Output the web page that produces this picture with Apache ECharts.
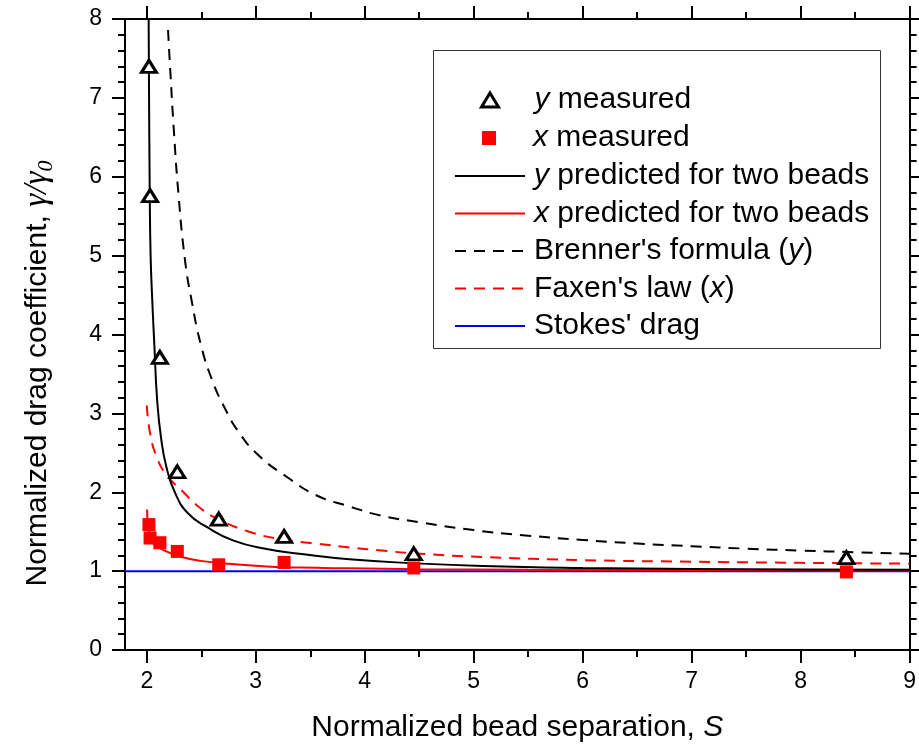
<!DOCTYPE html>
<html><head><meta charset="utf-8">
<script src="https://cdn.jsdelivr.net/npm/echarts@6/dist/echarts.min.js"></script>
<style>html,body{margin:0;padding:0;background:#fff}#c{width:919px;height:749px}</style>
</head><body><div id="c"></div>
<script>
// ---- data ----
const X_TICKS = [2, 3, 4, 5, 6, 7, 8, 9];
const X_MINOR_TICKS = [2.5, 3.5, 4.5, 5.5, 6.5, 7.5, 8.5];

const S_MEAS = [2.02, 2.03, 2.12, 2.28, 2.66, 3.26, 4.45, 8.42];
const Y_MEAS = [7.40, 5.76, 3.71, 2.26, 1.66, 1.44, 1.22, 1.17];
const X_MEAS = [1.59, 1.42, 1.36, 1.25, 1.08, 1.11, 1.04, 0.99];

const Y_PRED_S = [2.017, 2.02, 2.027, 2.035, 2.05, 2.07, 2.095, 2.13, 2.18, 2.26, 2.38, 2.55, 2.79, 3.10, 3.40, 3.86, 4.45, 5.08, 6.0, 7.0, 8.0, 9.0];
const Y_PRED   = [8.0, 7.2, 5.8, 5.0, 4.44, 3.85, 3.17, 2.70, 2.32, 1.99, 1.73, 1.56, 1.39, 1.28, 1.22, 1.15, 1.10, 1.065, 1.04, 1.028, 1.02, 1.016];

const X_PRED_S = [2.003, 2.01, 2.03, 2.06, 2.12, 2.18, 2.33, 2.49, 2.79, 3.10, 3.40, 3.86, 4.5, 5.5, 7.0, 9.0];
const X_PRED   = [1.78, 1.60, 1.45, 1.35, 1.29, 1.25, 1.175, 1.13, 1.09, 1.06, 1.045, 1.035, 1.025, 1.017, 1.011, 1.007];

const BRENNER_S = [2.195, 2.21, 2.25, 2.29, 2.35, 2.41, 2.5, 2.6, 2.70, 2.85, 3.04, 3.28, 3.55, 3.86, 4.13, 4.5, 5.0, 5.5, 6.0, 6.5, 7.0, 7.5, 8.0, 8.5, 9.0];
const BRENNER   = [7.86, 7.48, 6.55, 5.79, 4.95, 4.44, 3.85, 3.42, 3.11, 2.75, 2.45, 2.20, 1.965, 1.82, 1.71, 1.62, 1.52, 1.45, 1.395, 1.35, 1.315, 1.285, 1.26, 1.24, 1.22];

const FAXEN_S = [2.0, 2.03, 2.09, 2.18, 2.33, 2.49, 2.67, 2.94, 3.25, 3.55, 3.86, 4.13, 4.45, 5.08, 6.0, 7.0, 8.0, 9.0];
const FAXEN   = [3.10, 2.75, 2.45, 2.22, 2.01, 1.80, 1.65, 1.50, 1.40, 1.35, 1.30, 1.265, 1.225, 1.18, 1.14, 1.12, 1.105, 1.095];

const STOKES_S = [1.8, 9.0];
const STOKES   = [1.0, 1.0];

const LEGEND_RICH = {
  'y measured': '{i|y} measured',
  'x measured': '{i|x} measured',
  'y predicted for two beads': '{i|y} predicted for two beads',
  'x predicted for two beads': '{i|x} predicted for two beads',
  "Brenner's formula (y)": "Brenner's formula ({i|y})",
  "Faxen's law (x)": "Faxen's law ({i|x})",
  "Stokes' drag": "Stokes' drag"
};
const LEGEND_LINES = ['y predicted for two beads', 'x predicted for two beads', "Brenner's formula (y)", "Faxen's law (x)", "Stokes' drag"];

// ---- build ----
const zip = (a, b) => a.map((v, i) => [v, b[i]]);
const FONT = 'Liberation Sans, Arial, sans-serif';
const SERIF = 'Liberation Serif, Times New Roman, serif';
const AX = {color: '#000', width: 2};

function xAxisDef(pos, major, withLabels) {
  return {
    type: 'value', position: pos, min: 1.8, max: 9,
    axisLine: {show: major, onZero: false, lineStyle: AX},
    axisTick: {show: true, customValues: major ? X_TICKS : X_MINOR_TICKS, length: major ? 13 : 7, lineStyle: AX},
    axisLabel: withLabels ? {show: true, customValues: X_TICKS, fontSize: 23, fontFamily: FONT, color: '#000', margin: 20} : {show: false},
    splitLine: {show: false}
  };
}
function yAxisDef(pos, withLabels) {
  return {
    type: 'value', position: pos, min: 0, max: 8, interval: 1,
    axisLine: {show: true, onZero: false, lineStyle: AX},
    axisTick: {show: true, length: 13, lineStyle: AX},
    minorTick: {show: true, splitNumber: 5, length: 7, lineStyle: AX},
    axisLabel: withLabels ? {show: true, fontSize: 23, fontFamily: FONT, color: '#000', margin: 23} : {show: false},
    splitLine: {show: false}
  };
}

const xMain = xAxisDef('bottom', true, true);
xMain.name = '{n|Normalized bead separation, }{i|S}';
xMain.nameLocation = 'middle';
xMain.nameGap = 63;
xMain.nameTextStyle = {rich: {
  n: {fontSize: 30, fontFamily: FONT, color: '#000', lineHeight: 30},
  i: {fontSize: 30, fontFamily: FONT, fontStyle: 'italic', color: '#000', lineHeight: 30}
}};

const yMain = yAxisDef('left', true);
yMain.name = '{n|Normalized drag coefficient, }{g|γ/γ}{s|0}';
yMain.nameLocation = 'middle';
yMain.nameRotate = 90;
yMain.nameGap = 68;
yMain.nameTextStyle = {padding: [0, 78, 0, 0], rich: {
  n: {fontSize: 30, fontFamily: FONT, color: '#000', lineHeight: 36},
  g: {fontSize: 33, fontFamily: SERIF, fontStyle: 'italic', color: '#000', lineHeight: 36},
  s: {fontSize: 22, fontFamily: SERIF, fontStyle: 'italic', color: '#000', verticalAlign: 'top', padding: [17, 0, 0, 0]}
}};

const lineSeries = (name, s, v, color, type) => ({
  name, type: 'line', data: zip(s, v), symbol: 'none', smooth: 0.5,
  lineStyle: {color, width: 2, type}, itemStyle: {color}, clip: true, xAxisIndex: 0, yAxisIndex: 0
});

const legendText = pad => ({fontSize: 30, fontFamily: FONT, color: '#000', lineHeight: 30, padding: [0, 0, 0, pad],
  rich: {i: {fontSize: 30, fontFamily: FONT, fontStyle: 'italic', color: '#000', lineHeight: 30}}});
const fmt = n => LEGEND_RICH[n];

const option = {
  animation: false,
  backgroundColor: '#fff',
  grid: {left: 125, right: 8, top: 19, bottom: 99, containLabel: false},
  xAxis: [xMain, xAxisDef('bottom', false, false), xAxisDef('top', true, false), xAxisDef('top', false, false)],
  yAxis: [yMain, yAxisDef('right', false)],
  legend: [
    {orient: 'vertical', left: 480, top: 85, padding: 0, itemWidth: 17, itemHeight: 14, selectedMode: false,
     data: ['y measured'], formatter: fmt, textStyle: legendText(31),
     itemStyle: {color: '#fff', borderColor: '#000', borderWidth: 3, opacity: 1}},
    {orient: 'vertical', left: 482, top: 123, padding: 0, itemWidth: 14, itemHeight: 14, selectedMode: false,
     data: ['x measured'], formatter: fmt, textStyle: legendText(32),
     itemStyle: {color: '#ff0000', borderWidth: 0, opacity: 1}},
    {orient: 'vertical', left: 454, top: 161, padding: 0, itemWidth: 70, itemHeight: 14, itemGap: 7.5, selectedMode: false,
     data: LEGEND_LINES, formatter: fmt, textStyle: legendText(4), itemStyle: {opacity: 0}}
  ],
  graphic: [{type: 'rect', shape: {x: 433.5, y: 50.5, width: 447, height: 298}, style: {fill: 'none', stroke: '#333', lineWidth: 1}, silent: true}],
  series: [
    lineSeries("Stokes' drag", STOKES_S, STOKES, '#0000ff', 'solid'),
    lineSeries("Brenner's formula (y)", BRENNER_S, BRENNER, '#000', [11, 8]),
    lineSeries("Faxen's law (x)", FAXEN_S, FAXEN, '#ff0000', [11, 8]),
    lineSeries('x predicted for two beads', X_PRED_S, X_PRED, '#ff0000', 'solid'),
    lineSeries('y predicted for two beads', Y_PRED_S, Y_PRED, '#000', 'solid'),
    {name: 'x measured', type: 'scatter', data: zip(S_MEAS, X_MEAS), symbol: 'rect', symbolSize: 13,
     itemStyle: {color: '#ff0000', opacity: 1}, z: 3},
    {name: 'y measured', type: 'scatter', data: zip(S_MEAS, Y_MEAS), symbol: 'triangle', symbolSize: [15, 12],
     itemStyle: {color: '#fff', borderColor: '#000', borderWidth: 3, opacity: 1}, z: 4}
  ]
};
echarts.init(document.getElementById('c'), null, {renderer: 'canvas'}).setOption(option);
</script></body></html>
